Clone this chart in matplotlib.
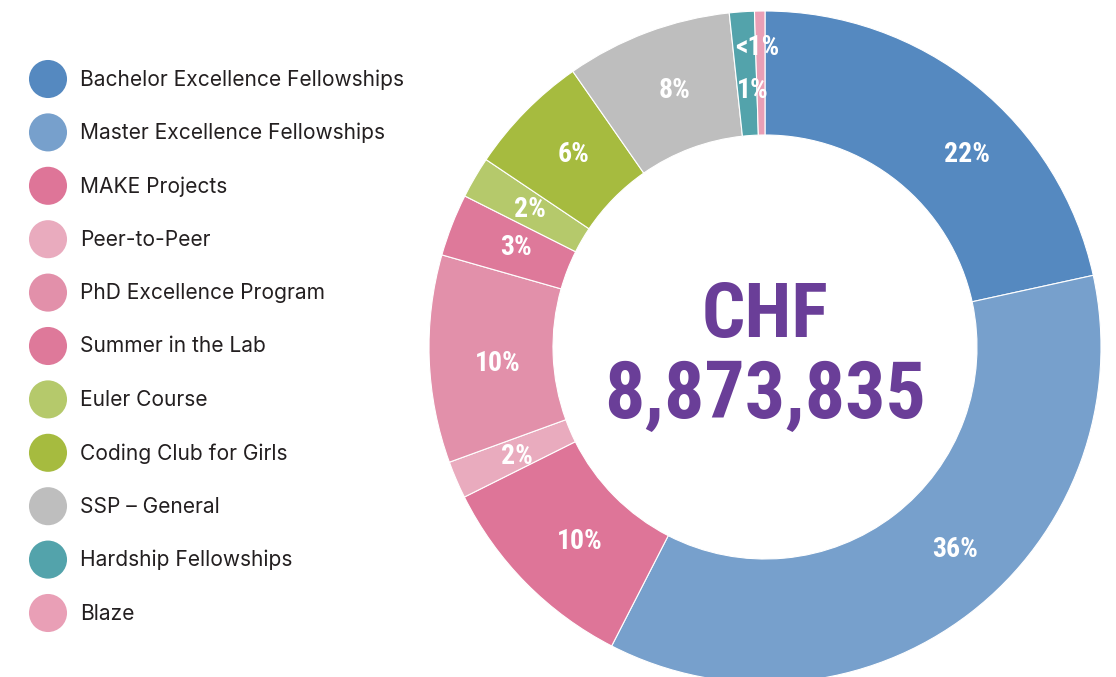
import matplotlib
matplotlib.use("Agg")
import matplotlib.pyplot as plt
import numpy as np
from matplotlib import font_manager

categories = ["Bachelor Excellence Fellowships", "Master Excellence Fellowships",
              "MAKE Projects", "Peer-to-Peer", "PhD Excellence Program",
              "Summer in the Lab", "Euler Course", "Coding Club for Girls",
              "SSP \u2013 General", "Hardship Fellowships", "Blaze"]
shares = [21.6, 36.0, 10.1, 1.8, 10.0, 3.0, 2.0, 5.9, 8.0, 1.2, 0.5]
pct_labels = ["22%", "36%", "10%", "2%", "10%", "3%", "2%", "6%", "8%", "1%", "<1%"]
colors = ["#5589c0", "#77a0cc", "#de7598", "#e9abbe", "#e290aa", "#de799a",
          "#b5c96b", "#a6bb3f", "#bebebe", "#53a3ab", "#e99fb6"]
# label placement styling (relative radius, angular nudge in degrees)
label_radius = [0.83, 0.827, 0.80, 0.807, 0.798, 0.798, 0.81, 0.807, 0.81, 0.765, 0.893]
label_nudge = [-7.6, 5.7, 1.7, 0.5, 1.5, -0.5, 0.0, -0.6, -1.0, -1.3, 0.6]

names = {f.name for f in font_manager.fontManager.ttflist}
cond = [f for f in ["Roboto Condensed", "DejaVu Sans Condensed", "Liberation Sans Narrow"] if f in names]
cond_family = cond + ["DejaVu Sans"]
legend_family = "Inter" if "Inter" in names else "DejaVu Sans"

W, H = 1116, 677
fig = plt.figure(figsize=(W / 100, H / 100), dpi=100)
fig.patch.set_facecolor("white")

cx, cy, R = 765, 347, 336
ax = fig.add_axes([(cx - R) / W, (H - cy - R) / H, 2 * R / W, 2 * R / H])

inner = 212 / R
wedges, _ = ax.pie(shares, colors=colors, startangle=90, counterclock=False,
                   radius=1.0, wedgeprops=dict(width=1 - inner, edgecolor="white", linewidth=0.8))
ax.set_xlim(-1, 1)
ax.set_ylim(-1, 1)
ax.set_aspect("equal")
ax.axis("off")

for w, lab, r, nd in zip(wedges, pct_labels, label_radius, label_nudge):
    ang = np.deg2rad((w.theta1 + w.theta2) / 2 + nd)
    ax.text(r * np.cos(ang), r * np.sin(ang), lab, ha="center", va="center",
            color="white", fontsize=20, fontweight="bold", family=cond_family)

ax.text(0, 0.092, "CHF", ha="center", va="center", color="#6a3e98",
        fontsize=55, fontweight="bold", family=cond_family)
ax.text(0, -0.146, "8,873,835", ha="center", va="center", color="#6a3e98",
        fontsize=57.5, fontweight="bold", family=cond_family)

# legend
lax = fig.add_axes([0, 0, 1, 1])
lax.set_xlim(0, W)
lax.set_ylim(H, 0)
lax.axis("off")
y0, dy = 79.5, 53.4
for i, (name, c) in enumerate(zip(categories, colors)):
    y = y0 + i * dy
    lax.scatter([48], [y - 0.5], s=38 ** 2 * 0.52, color=c, edgecolor="none")
    lax.text(80, y, name, ha="left", va="center", fontsize=15.1,
             color="#231f20", family=legend_family)

fig.savefig("out.png", dpi=100, facecolor="white")
